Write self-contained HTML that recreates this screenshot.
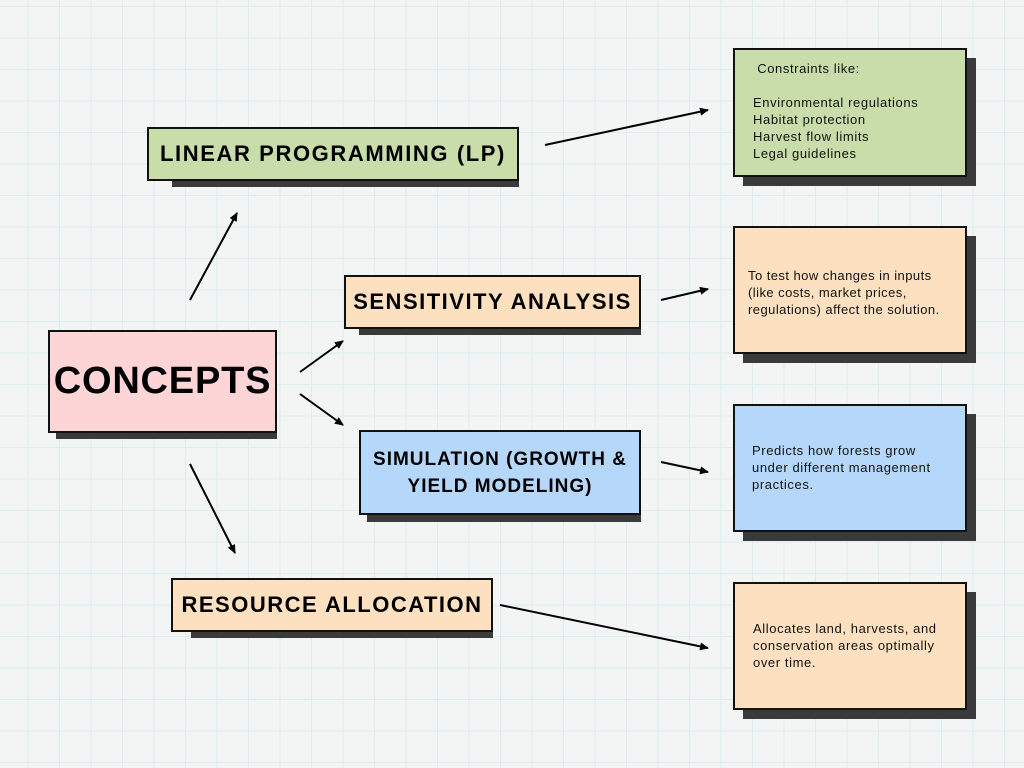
<!DOCTYPE html>
<html><head><meta charset="utf-8"><style>
body{margin:0;width:1024px;height:768px;overflow:hidden;position:relative;font-family:"Liberation Sans",sans-serif;
background-color:#f3f4f4;
background-image:linear-gradient(#dceeee 1px,transparent 1px),linear-gradient(90deg,#dceeee 1px,transparent 1px);
background-size:31.5px 31.5px;background-position:-4px 6px;}
.s{position:absolute;background:#3a3a3a;}
.b{position:absolute;box-sizing:border-box;border:2px solid #111;display:flex;align-items:center;justify-content:center;text-align:center;font-weight:bold;color:#000;white-space:nowrap;}
.t{position:absolute;box-sizing:border-box;border:2px solid #111;font-size:13px;letter-spacing:0.6px;line-height:17px;color:#111;white-space:nowrap;}
.g{background:#c9ddab}.o{background:#fde0bf}.p{background:#fed5d7}.bl{background:#b5d8fa}
</style></head><body>
<div class="s" style="left:172px;top:135px;width:347px;height:52px"></div>
<div class="b g" style="left:147px;top:127px;width:372px;height:54px;font-size:22px;letter-spacing:1.6px">LINEAR PROGRAMMING (LP)</div>
<div class="s" style="left:56px;top:340px;width:221px;height:99px"></div>
<div class="b p" style="left:48px;top:330px;width:229px;height:103px;font-size:38px;letter-spacing:0.8px">CONCEPTS</div>
<div class="s" style="left:359px;top:284px;width:282px;height:51px"></div>
<div class="b o" style="left:344px;top:275px;width:297px;height:54px;font-size:22px;letter-spacing:1.5px">SENSITIVITY ANALYSIS</div>
<div class="s" style="left:367px;top:440px;width:274px;height:82px"></div>
<div class="b bl" style="left:359px;top:430px;width:282px;height:85px;font-size:19px;letter-spacing:1px;line-height:27px">SIMULATION (GROWTH &amp;<br>YIELD MODELING)</div>
<div class="s" style="left:191px;top:588px;width:302px;height:50px"></div>
<div class="b o" style="left:171px;top:578px;width:322px;height:54px;font-size:22px;letter-spacing:1.5px">RESOURCE ALLOCATION</div>

<div class="s" style="left:743px;top:58px;width:233px;height:128px"></div>
<div class="t g" style="left:733px;top:48px;width:234px;height:129px;padding:10px 0 0 18px">&nbsp;Constraints like:<br><br>Environmental regulations<br>Habitat protection<br>Harvest flow limits<br>Legal guidelines</div>
<div class="s" style="left:743px;top:236px;width:233px;height:127px"></div>
<div class="t o" style="left:733px;top:226px;width:234px;height:128px;padding:39px 0 0 13px;letter-spacing:0.45px">To test how changes in inputs<br>(like costs, market prices,<br>regulations) affect the solution.</div>
<div class="s" style="left:743px;top:414px;width:233px;height:127px"></div>
<div class="t bl" style="left:733px;top:404px;width:234px;height:128px;padding:36px 0 0 17px">Predicts how forests grow<br>under different management<br>practices.</div>
<div class="s" style="left:743px;top:592px;width:233px;height:127px"></div>
<div class="t o" style="left:733px;top:582px;width:234px;height:128px;padding:36px 0 0 18px">Allocates land, harvests, and<br>conservation areas optimally<br>over time.</div>

<svg width="1024" height="768" style="position:absolute;left:0;top:0">
<defs><marker id="a" markerWidth="10" markerHeight="10" refX="8" refY="5" orient="auto" markerUnits="userSpaceOnUse"><path d="M0,1 L9,5 L0,9 Z" fill="#000"/></marker></defs>
<g stroke="#000" stroke-width="2" marker-end="url(#a)">
<line x1="190" y1="300" x2="237" y2="213"/>
<line x1="300" y1="372" x2="343" y2="341"/>
<line x1="300" y1="394" x2="343" y2="425"/>
<line x1="190" y1="464" x2="235" y2="553"/>
<line x1="545" y1="145" x2="708" y2="110"/>
<line x1="661" y1="300" x2="708" y2="289"/>
<line x1="661" y1="462" x2="708" y2="472"/>
<line x1="500" y1="605" x2="708" y2="648"/>
</g></svg>
</body></html>
